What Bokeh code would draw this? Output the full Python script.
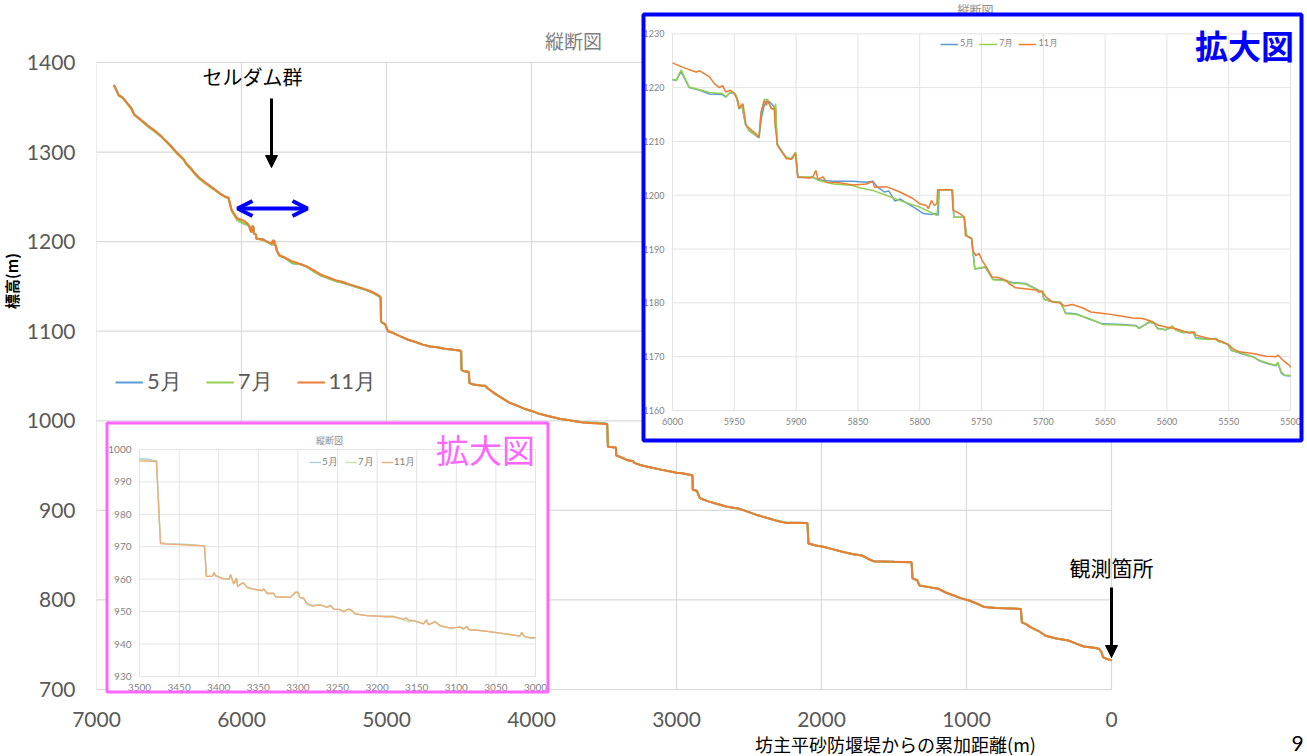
import math
from bokeh.plotting import figure
from bokeh.layouts import row, column
from bokeh.models import (Range1d, FixedTicker, Legend, LegendItem, Label, Arrow,
                          NormalHead, OpenHead)
from bokeh.core.properties import value
from bokeh.embed import file_html
from bokeh.resources import INLINE

# ---------------- data ----------------
series_labels = ["5月", "7月", "11月"]

main_x_ticks = [7000, 6000, 5000, 4000, 3000, 2000, 1000, 0]
main_y_ticks = [700, 800, 900, 1000, 1100, 1200, 1300, 1400]

main_dist = [
    6880, 6860, 6845, 6830, 6815, 6800, 6780, 6760, 6740, 6700,
    6650, 6600, 6550, 6500, 6450, 6400, 6380, 6350, 6320, 6290,
    6250, 6200, 6150, 6110, 6090, 6080, 6070, 6050, 6030, 6000,
    5980, 5960, 5945, 5940, 5930, 5925, 5918, 5915, 5900, 5898,
    5850, 5800, 5788, 5785, 5774, 5772, 5763, 5757, 5746, 5740,
    5700, 5650, 5600, 5550, 5500, 5450, 5400, 5350, 5300, 5250,
    5200, 5150, 5100, 5060, 5045, 5040, 5038, 5030, 5010, 4990,
    4960, 4900, 4850, 4800, 4750, 4700, 4650, 4600, 4550, 4500,
    4485, 4483, 4470, 4450, 4432, 4428, 4400, 4350, 4320, 4300,
    4250, 4200, 4150, 4100, 4050, 4000, 3950, 3900, 3850, 3800,
    3750, 3700, 3650, 3600, 3550, 3500, 3478, 3473, 3418, 3415,
    3400, 3380, 3350, 3330, 3300, 3290, 3250, 3200, 3150, 3100,
    3050, 3000, 2962, 2900, 2890, 2888, 2860, 2840, 2830, 2780,
    2724, 2650, 2565, 2500, 2450, 2355, 2300, 2248, 2150, 2097,
    2090, 2038, 1980, 1932, 1850, 1780, 1721, 1680, 1641, 1500,
    1379, 1372, 1340, 1324, 1250, 1193, 1140, 1088, 1040, 982,
    930, 876, 800, 700, 625, 618, 590, 559, 500, 455,
    380, 297, 240, 191, 120, 86, 70, 58, 30, 0]

main_elev_nov = [
    1375, 1368, 1363, 1362, 1360, 1357, 1353, 1349, 1342, 1337,
    1330, 1324, 1317, 1309, 1300, 1292, 1287, 1282, 1276, 1271,
    1266, 1260, 1254, 1250, 1249, 1243, 1236, 1231, 1226, 1224.5,
    1223, 1220.4, 1217, 1213, 1210.7, 1217.6, 1216, 1209.3, 1207.8, 1203.4,
    1202, 1198.4, 1198, 1201, 1201, 1196.5, 1196, 1190, 1187, 1185,
    1182, 1178, 1175.5, 1172.1, 1168, 1163, 1160, 1157, 1155, 1152,
    1149.5, 1147, 1144, 1140.5, 1139, 1137, 1111, 1109.5, 1108, 1100,
    1098.5, 1094, 1090.5, 1088, 1085, 1083, 1082, 1080.5, 1079.5, 1078.5,
    1078, 1057, 1055.5, 1055, 1054.5, 1042, 1040.5, 1039.5, 1039, 1036,
    1030, 1025, 1020, 1017, 1013.5, 1011, 1008, 1006, 1004, 1002,
    1001, 999.5, 998, 997.5, 997, 996.5, 996.3, 971, 970.3, 961,
    960.5, 959, 957, 955.6, 955, 953, 950.7, 948.7, 947, 945.2,
    943.6, 941.9, 941.5, 939.5, 939, 923, 922, 914, 913, 910,
    907.3, 904, 901.7, 898, 895, 890.6, 888, 886, 885.8, 885.6,
    863, 860.7, 859, 857, 853.5, 851, 849.6, 846, 843.3, 842.5,
    842, 824, 822, 816, 814, 812.4, 808, 805, 802, 799.4,
    796, 792, 791, 790.5, 790, 775, 773, 769.6, 765, 760,
    757, 754.7, 751, 748, 746.5, 745.5, 742, 736, 734, 732.5]

main_elev_jul = [
    1375, 1368, 1362.5, 1361.5, 1359.5, 1356.5, 1352.5, 1348, 1341.5, 1336,
    1329, 1323, 1316.5, 1308.5, 1299, 1291.5, 1286, 1281, 1275, 1270,
    1265, 1259, 1253.5, 1249.5, 1248.5, 1242, 1235, 1229.5, 1224, 1221.5,
    1220, 1219, 1217, 1213, 1210.7, 1217.8, 1216, 1209.6, 1208, 1203.4,
    1201.6, 1197.8, 1196.5, 1201, 1201, 1196, 1195.9, 1190, 1186.6, 1184.3,
    1182, 1176, 1175, 1172.4, 1166.5, 1162, 1159, 1156, 1154, 1151.5,
    1149, 1146.5, 1143.5, 1139.5, 1138, 1137, 1111, 1109.5, 1108, 1100,
    1098.5, 1094, 1090.5, 1088, 1085, 1083, 1082, 1080.5, 1079.5, 1078.5,
    1078, 1057, 1055.5, 1055, 1054.5, 1042, 1040.5, 1039.5, 1039, 1036,
    1030, 1025, 1020, 1017, 1013.5, 1011, 1008, 1006, 1004, 1002,
    1001, 999.5, 998.5, 998, 997.8, 997, 996.5, 971, 970.3, 961,
    960.5, 959, 957, 955.6, 955, 953, 950.7, 948.7, 946.8, 945.2,
    943.6, 941.9, 941.5, 939.5, 939, 923, 922, 914, 913, 910,
    907.3, 904, 901.7, 898, 895, 890.6, 888, 886.5, 886.3, 885.9,
    863, 860.7, 859, 857, 853.5, 851, 849.6, 846, 843, 842.3,
    842, 824, 822, 816, 814, 812.4, 808, 805, 802, 799.4,
    796, 792, 791.3, 790.8, 790, 775, 773, 769.6, 765, 760,
    757, 754.7, 751, 748, 746.5, 745.5, 742, 736, 734, 732.5]

main_elev_may = [
    1375, 1368, 1363, 1362, 1360, 1357, 1353, 1349, 1342, 1337,
    1330, 1324, 1317, 1309, 1300, 1292, 1287, 1282, 1276, 1271,
    1266, 1260, 1254, 1250, 1249, 1243, 1236, 1230, 1225, 1221.5,
    1220, 1218.8, 1216.8, 1213, 1210.7, 1216.5, 1216.5, 1209.4, 1207.9, 1203.3,
    1202.6, 1197.5, 1196.5, 1201, 1201, 1196, 1195.9, 1190, 1186.6, 1184.4,
    1182, 1176, 1175, 1172.3, 1166.4, 1162, 1159, 1156, 1154, 1151.5,
    1149, 1146.5, 1143.5, 1140, 1138.5, 1137, 1111, 1109.5, 1108, 1100,
    1098.5, 1094, 1090.5, 1088, 1085, 1083, 1082, 1080.5, 1079.5, 1078.5,
    1078, 1057, 1055.5, 1055, 1054.5, 1042, 1040.5, 1039.5, 1039, 1036,
    1030, 1025, 1020, 1017, 1013.5, 1011, 1008, 1006, 1004, 1002,
    1001, 999.5, 998.5, 998, 997.8, 997.2, 996.6, 971, 970.3, 961,
    960.5, 959, 957, 955.6, 955, 953, 950.7, 948.7, 947, 945.2,
    943.6, 941.9, 941.5, 939.5, 939, 923, 922, 914, 913, 910,
    907.3, 904, 901.7, 898, 895, 890.6, 888, 886.5, 886.3, 885.9,
    863, 860.7, 859, 857, 853.5, 851, 849.6, 846, 843.2, 842.7,
    842, 824, 822, 816, 814, 812.4, 808, 805, 802, 799.4,
    796, 792, 791, 790.5, 790, 775, 773, 769.6, 765, 760,
    757, 754.7, 751, 748, 746.5, 745.5, 742, 736, 734, 732.5]

# blue inset (拡大図 6000-5500)
blue_x_ticks = [6000, 5950, 5900, 5850, 5800, 5750, 5700, 5650, 5600, 5550, 5500]
blue_y_ticks = [1160, 1170, 1180, 1190, 1200, 1210, 1220, 1230]

blue_nov_d = [
    6000, 5992, 5981, 5978, 5970, 5966, 5962, 5959.5, 5957, 5953,
    5950, 5947, 5946, 5943, 5940.5, 5935.7, 5932.4, 5930, 5928.4, 5925.7,
    5924, 5923, 5920, 5917.6, 5917, 5915, 5912, 5908, 5903, 5900.5,
    5898.6, 5889, 5886.5, 5884, 5882.4, 5878, 5875.7, 5865, 5854, 5843,
    5838, 5836.5, 5827, 5816, 5805.4, 5800, 5794.6, 5793, 5790.5, 5788,
    5786, 5785.5, 5774, 5773, 5767.6, 5764, 5763, 5758, 5757, 5754.6,
    5752, 5749.5, 5745.4, 5741.4, 5736, 5730.5, 5727.8, 5722.4, 5706, 5703.5,
    5700.8, 5698, 5692.7, 5687, 5682.4, 5676.5, 5668.4, 5661.6, 5649.5, 5638.6,
    5627.8, 5619.7, 5611.6, 5607.6, 5600.8, 5592.7, 5581.9, 5577.8, 5576.5, 5565.7,
    5560, 5554.9, 5549.5, 5546.8, 5541.4, 5530.5, 5519.7, 5511.6, 5510, 5506,
    5500.8, 5500]
blue_nov_e = [
    1224.6, 1223.8, 1222.9, 1223.1, 1222, 1220.7, 1220, 1220.4, 1219.2, 1219.5,
    1218.9, 1217.6, 1216.1, 1217, 1213, 1212, 1211.4, 1210.7, 1215.2, 1217.6,
    1216.7, 1217.6, 1216.1, 1216.1, 1213, 1209.3, 1208.3, 1206.8, 1206.8, 1207.8,
    1203.4, 1203.2, 1203.4, 1204.6, 1203, 1203.4, 1202.4, 1202.3, 1201.9, 1202.1,
    1202.6, 1201.5, 1201.6, 1200.6, 1199.4, 1198.4, 1198.1, 1197.5, 1199, 1198.1,
    1198.5, 1201, 1201, 1197.2, 1196.6, 1196, 1192.5, 1192, 1189.7, 1188.8,
    1189.2, 1187.9, 1186.4, 1184.8, 1184.7, 1184.2, 1183.6, 1182.8, 1182.4, 1182,
    1182.2, 1181.1, 1180.2, 1180, 1179.4, 1179.7, 1179.1, 1178.3, 1178, 1177.6,
    1177.2, 1177.1, 1176.5, 1175.9, 1175.5, 1175.2, 1174.4, 1174.6, 1174, 1173.4,
    1173.2, 1172.8, 1172.1, 1171.5, 1170.9, 1170.6, 1170.1, 1170, 1170.3, 1169.3,
    1168.4, 1168]

blue_jul_d = [
    6000, 5997, 5993, 5986.5, 5978, 5970, 5959.5, 5957, 5954, 5951,
    5948.6, 5946, 5944, 5941, 5938, 5932, 5930, 5928.4, 5925.7, 5923,
    5920, 5917.6, 5916.5, 5915.4, 5912, 5908, 5904, 5900.5, 5898.6, 5886.5,
    5882.4, 5870, 5854, 5848.6, 5838, 5827, 5816, 5800, 5789, 5786,
    5784.3, 5773.5, 5772.4, 5764, 5762, 5758, 5755.4, 5746.8, 5740.8, 5733,
    5725, 5714.3, 5705, 5700.8, 5699.5, 5692.7, 5686, 5681.9, 5673.8, 5663,
    5652, 5636, 5625, 5622.4, 5614.3, 5610.3, 5607.6, 5601, 5595.4, 5592.7,
    5587.3, 5579, 5576.5, 5565.7, 5560, 5558.7, 5550.8, 5548, 5538.6, 5530.5,
    5525, 5517, 5511.6, 5510.3, 5507.6, 5504.9, 5500]
blue_jul_e = [
    1221.5, 1221.4, 1223.3, 1220.1, 1219.6, 1219.1, 1218.9, 1218.3, 1219, 1219.2,
    1218.6, 1216.1, 1217, 1213.3, 1212, 1211.1, 1210.7, 1215.5, 1217.8, 1217.8,
    1216.1, 1215.9, 1217, 1209.6, 1208.3, 1207.1, 1206.8, 1208, 1203.4, 1203.4,
    1202.8, 1202.1, 1201.8, 1201.4, 1200.9, 1200, 1199, 1197.8, 1196.6, 1196.2,
    1201, 1201, 1195.9, 1195.9, 1192.5, 1191.9, 1186.3, 1186.7, 1184.3, 1184.2,
    1183.7, 1183.5, 1182.4, 1182, 1180.6, 1180.2, 1180.1, 1178, 1177.9, 1177.1,
    1176, 1175.9, 1175.7, 1175.2, 1176.5, 1176.2, 1175.2, 1175, 1175.7, 1174.9,
    1174.5, 1174.6, 1173.4, 1173.2, 1173.4, 1172.8, 1172.4, 1171.2, 1170.6, 1170,
    1169.3, 1168.7, 1168.4, 1169, 1167.2, 1166.6, 1166.5]

blue_may_d = [
    6000, 5997, 5993, 5986.5, 5978, 5970, 5959.5, 5957, 5954, 5951,
    5948.6, 5946, 5944, 5941, 5938, 5932, 5930, 5928, 5926, 5924,
    5921, 5918, 5916.5, 5915.4, 5912, 5908, 5904, 5900.5, 5898.6, 5886.5,
    5882.4, 5870, 5854, 5843, 5838, 5834, 5828.6, 5825, 5820, 5816,
    5805, 5797, 5790.5, 5786.5, 5785, 5784.3, 5773.5, 5772.4, 5764, 5762,
    5758, 5755.4, 5746.8, 5740.8, 5733, 5725, 5714.3, 5705, 5700.8, 5699.5,
    5692.7, 5686, 5681.9, 5673.8, 5663, 5652, 5636, 5625, 5622.4, 5614.3,
    5610.3, 5607.6, 5601, 5595.4, 5592.7, 5587.3, 5579, 5576.5, 5565.7, 5560,
    5558.7, 5550.8, 5548, 5538.6, 5530.5, 5525, 5517, 5511.6, 5510.3, 5507.6,
    5504.9, 5500]
blue_may_e = [
    1221.5, 1221.3, 1223, 1220, 1219.5, 1218.8, 1218.7, 1218.2, 1218.9, 1219.1,
    1218.5, 1216, 1216.8, 1213.2, 1212, 1211, 1210.7, 1214.5, 1216.5, 1217.5,
    1217.3, 1216.5, 1216, 1209.4, 1208.2, 1207, 1206.7, 1207.9, 1203.3, 1203.3,
    1202.9, 1202.6, 1202.6, 1202.4, 1202.6, 1201.5, 1200.6, 1200.8, 1198.9, 1199.3,
    1197.8, 1196.6, 1196.4, 1196.6, 1196.3, 1201, 1201, 1195.9, 1195.9, 1192.5,
    1191.9, 1186.3, 1186.6, 1184.4, 1184.3, 1183.8, 1183.6, 1182.5, 1182, 1180.7,
    1180.2, 1180.1, 1178.1, 1178, 1177, 1176.1, 1176, 1175.8, 1175.3, 1176.4,
    1176.2, 1175.3, 1175, 1175.5, 1175, 1174.5, 1174.5, 1173.5, 1173.3, 1173.4,
    1172.9, 1172.3, 1171.2, 1170.5, 1170, 1169.2, 1168.6, 1168.3, 1168.9, 1167,
    1166.5, 1166.4]

# pink inset (拡大図 3500-3000)
pink_x_ticks = [3500, 3450, 3400, 3350, 3300, 3250, 3200, 3150, 3100, 3050, 3000]
pink_y_ticks = [930, 940, 950, 960, 970, 980, 990, 1000]

pink_d = [
    3500, 3490, 3478.6, 3473.5, 3465, 3440, 3418, 3415.5, 3408, 3406,
    3404, 3393.6, 3387, 3385, 3381, 3377.6, 3376, 3369.2, 3364, 3357.9,
    3345, 3343, 3339, 3330.5, 3328.4, 3309.5, 3303.2, 3300, 3297.7, 3292.7,
    3288.5, 3282, 3271.6, 3263, 3259, 3254.8, 3246.4, 3242.2, 3236, 3231.7,
    3227.5, 3212.8, 3191.8, 3179.1, 3166.5, 3164, 3160, 3153.9, 3141.3, 3138,
    3135, 3126.6, 3120.3, 3107.7, 3095, 3090.8, 3086.6, 3084.5, 3065.6, 3044.6,
    3023.6, 3020, 3017.2, 3014.3, 3006.7, 3000]
pink_nov = [
    996.5, 996.4, 996.3, 971.0, 970.8, 970.6, 970.3, 960.9, 960.9, 962.1,
    961.1, 960.1, 960.0, 961.4, 958.5, 960.3, 957.8, 959.0, 957.5, 957.0,
    956.5, 957.0, 955.6, 955.6, 954.6, 954.4, 956.0, 956.0, 954.4, 954.1,
    952.4, 951.8, 952.1, 951.3, 952.0, 950.8, 950.6, 950.0, 950.8, 950.3,
    949.3, 948.8, 948.5, 948.5, 947.7, 948.1, 947.4, 947.2, 946.2, 947.5,
    946.0, 946.9, 945.7, 944.9, 945.2, 944.7, 945.4, 944.5, 944.1, 943.4,
    942.6, 942.4, 943.6, 942.4, 941.9, 941.9]
pink_jul = [
    997.0, 996.6, 996.4, 971.2, 970.9, 970.6, 970.3, 960.9, 960.9, 962.0,
    961.1, 960.1, 960.0, 961.2, 958.6, 960.1, 957.8, 958.9, 957.5, 957.0,
    956.5, 956.9, 955.6, 955.6, 954.6, 954.4, 955.8, 955.9, 954.4, 954.1,
    952.4, 951.8, 952.1, 951.3, 951.9, 950.8, 950.6, 950.0, 950.7, 950.3,
    949.3, 948.8, 948.5, 948.3, 947.5, 947.2, 946.8, 947.2, 946.2, 947.3,
    946.0, 946.8, 945.5, 944.9, 945.2, 944.7, 945.3, 944.5, 944.1, 943.4,
    942.6, 942.4, 943.5, 942.4, 941.9, 941.9]
pink_may = [
    997.2, 997.0, 996.5, 971.3, 971.0, 970.7, 970.3, 960.9, 960.9, 962.0,
    961.0, 960.1, 960.0, 961.5, 958.5, 960.4, 957.8, 958.9, 957.5, 957.0,
    956.5, 956.9, 955.8, 955.7, 954.6, 954.4, 955.9, 956.0, 954.4, 954.1,
    952.3, 951.9, 952.1, 951.3, 952.0, 950.8, 950.6, 950.0, 950.8, 950.3,
    949.3, 948.8, 948.5, 948.5, 947.7, 948.0, 947.4, 947.2, 946.2, 947.4,
    946.0, 946.9, 945.7, 944.9, 945.2, 944.7, 945.4, 944.5, 944.1, 943.4,
    942.6, 942.4, 943.6, 942.4, 941.9, 941.9]

# ---------------- styles / layout ----------------
C_MAY, C_JUL, C_NOV = "#5B9BD5", "#92D050", "#ED7D31"
P_MAY, P_JUL, P_NOV = "#A9CBEB", "#C2E49E", "#F2AA74"
GRID = "#D9D9D9"
TICK = "#595959"
INSET_TICK = "#7F7F7F"
BLUE = "#0000FF"
PINK = "#FF66FF"
JP = "Noto Sans CJK JP"
NUM = "Lato"

PAGE_W, PAGE_H = 1307, 756
STRIP_W = 22        # left strip holding the y-axis title
MAIN_H = 730        # main figure height; footer below holds the x-axis title
FL, FR, FT, FB = 96, 1307, 0, 697          # plot frame, page pixels


def X(px):   # page pixel -> main distance
    return main_x_ticks[0] + (px - 96) * (main_x_ticks[-1] - main_x_ticks[0]) / (1111 - 96)


def Y(py):   # page pixel -> main elevation
    return main_y_ticks[0] + (py - 689) * (main_y_ticks[-1] - main_y_ticks[0]) / (62 - 689)


def plain_fig(w, h, xr, yr):
    f = figure(width=w, height=h, title=None, x_range=xr, y_range=yr,
               output_backend="svg", toolbar_location=None, tools="",
               x_axis_location=None, y_axis_location=None,
               min_border=0, min_border_left=0, min_border_right=0,
               min_border_top=0, min_border_bottom=0)
    f.outline_line_color = None
    f.xgrid.visible = False
    f.ygrid.visible = False
    f.background_fill_color = "white"
    f.border_fill_color = "white"
    return f


main_w = PAGE_W - STRIP_W
p = figure(width=main_w, height=MAIN_H, title=None,
           x_range=Range1d(X(FL), X(FR)), y_range=Range1d(Y(FB), Y(FT)),
           output_backend="svg", toolbar_location=None, tools="",
           min_border_left=FL - STRIP_W, min_border_right=PAGE_W - FR,
           min_border_top=FT, min_border_bottom=MAIN_H - FB)
p.outline_line_color = None
p.background_fill_color = "white"
p.border_fill_color = "white"
p.xgrid.visible = False
p.ygrid.visible = False

for ax, ticks in ((p.xaxis, main_x_ticks), (p.yaxis, main_y_ticks)):
    ax.ticker = FixedTicker(ticks=ticks)
    ax.axis_line_color = None
    ax.major_tick_line_color = None
    ax.minor_tick_line_color = None
    ax.major_tick_out = 0
    ax.major_tick_in = 0
    ax.major_label_text_font = NUM
    ax.major_label_text_font_size = "21px"
    ax.major_label_text_color = TICK
p.xaxis.major_label_standoff = 14
p.yaxis.major_label_standoff = 21

# main grid (bounded to the chart area)
ymin, ymax = min(main_y_ticks), max(main_y_ticks)
xmin, xmax = min(main_x_ticks), max(main_x_ticks)
p.segment(x0=main_x_ticks, y0=[ymin] * len(main_x_ticks), x1=main_x_ticks,
          y1=[ymax] * len(main_x_ticks), line_color=GRID, line_width=1.2)
p.segment(x0=[xmax] * len(main_y_ticks), y0=main_y_ticks, x1=[xmin] * len(main_y_ticks),
          y1=main_y_ticks, line_color=GRID, line_width=1.2)

r_may = p.line(main_dist, main_elev_may, line_color=C_MAY, line_width=2)
r_jul = p.line(main_dist, main_elev_jul, line_color=C_JUL, line_width=2)
r_nov = p.line(main_dist, main_elev_nov, line_color=C_NOV, line_width=2)

p.add_layout(Legend(
    items=[LegendItem(label=series_labels[0], renderers=[r_may]),
           LegendItem(label=series_labels[1], renderers=[r_jul]),
           LegendItem(label=series_labels[2], renderers=[r_nov])],
    orientation="horizontal", location=(19, 300), padding=0, margin=0,
    spacing=24, glyph_width=28, glyph_height=20, label_height=20, label_standoff=4,
    label_text_font=NUM, label_text_font_size="22px", label_text_color=TICK,
    background_fill_alpha=0, border_line_alpha=0))


def inset(x_ticks, y_ticks, box, frame, lines, colors, lw, fs, legend_pos,
          legend_kw, box_color, box_w, title_pos, title_fs):
    bl, br, bt, bb = box
    p.quad(left=X(bl), right=X(br), top=Y(bt), bottom=Y(bb), fill_color="white",
           line_color=None)
    fl, fr, ft, fb = frame
    sub = p.subplot(x_source=Range1d(x_ticks[0], x_ticks[-1]),
                    y_source=Range1d(y_ticks[0], y_ticks[-1]),
                    x_target=Range1d(X(fl), X(fr)), y_target=Range1d(Y(fb), Y(ft)))
    y0, y1 = y_ticks[0], y_ticks[-1]
    x0, x1 = x_ticks[0], x_ticks[-1]
    sub.segment(x0=x_ticks, y0=[y0] * len(x_ticks), x1=x_ticks, y1=[y1] * len(x_ticks),
                line_color="#E3E3E3", line_width=1)
    sub.segment(x0=[x0] * len(y_ticks), y0=y_ticks, x1=[x1] * len(y_ticks), y1=y_ticks,
                line_color="#E3E3E3", line_width=1)
    sub.text(x=x_ticks, y=[y0] * len(x_ticks), text=[str(t) for t in x_ticks],
             y_offset=11, text_align="center", text_baseline="middle",
             text_font=value(NUM), text_font_size=fs, text_color=INSET_TICK)
    sub.text(x=[x0] * len(y_ticks), y=y_ticks, text=[str(t) for t in y_ticks],
             x_offset=-8, text_align="right", text_baseline="middle",
             text_font=value(NUM), text_font_size=fs, text_color=INSET_TICK)
    p.text(x=[X(title_pos[0])], y=[Y(title_pos[1])], text=["縦断図"],
           text_align="center", text_baseline="middle", text_font=value(JP),
           text_font_size=title_fs, text_color="#8C8C8C")
    rends = []
    for (d, e), c in zip(lines, colors):
        rends.append(sub.line(d, e, line_color=c, line_width=lw))
    p.quad(left=X(bl), right=X(br), top=Y(bt), bottom=Y(bb), fill_color=None,
           line_color=box_color, line_width=box_w)
    p.add_layout(Legend(
        items=[LegendItem(label=lab, renderers=[r]) for lab, r in zip(series_labels, rends)],
        orientation="horizontal", location=legend_pos, padding=0, margin=0,
        label_text_font=NUM, label_text_color=INSET_TICK, label_width=0,
        background_fill_alpha=0, border_line_alpha=0, **legend_kw))


# pink inset
inset(pink_x_ticks, pink_y_ticks, (106.5, 547.5, 422.5, 691.5), (139, 535, 449, 676),
      [(pink_d, pink_may), (pink_d, pink_jul), (pink_d, pink_nov)],
      [P_MAY, P_JUL, P_NOV], 1.3, "10px", (213, 228),
      dict(spacing=7, glyph_width=12, glyph_height=10, label_height=10,
           label_standoff=1, label_text_font_size="10px"),
      PINK, 3, (329, 440), "9px")

# blue inset
inset(blue_x_ticks, blue_y_ticks, (643, 1301, 14, 440), (672, 1290, 33.3, 410),
      [(blue_may_d, blue_may_e), (blue_jul_d, blue_jul_e), (blue_nov_d, blue_nov_e)],
      [C_MAY, C_JUL, C_NOV], 1.5, "9px", (844, 647),
      dict(spacing=5, glyph_width=18, glyph_height=10, label_height=10,
           label_standoff=2, label_text_font_size="9px"),
      BLUE, 4, (975, 9), "12px")


# texts inside the main frame
def lab(px, py, text, size, color="black", style="normal", align="center"):
    p.add_layout(Label(x=X(px), y=Y(py), text=text, text_align=align,
                       text_baseline="middle", text_font=JP, text_font_size=size,
                       text_color=color, text_font_style=style))


lab(573, 40, "縦断図", "19px", "#7F7F7F")
lab(1244, 44, "拡大図", "33px", BLUE, "bold")
lab(485, 448, "拡大図", "33px", PINK)
lab(252, 76, "セルダム群", "20px")
lab(1111, 566, "観測箇所", "21px")

# arrows
p.add_layout(Arrow(end=NormalHead(size=12, fill_color="black", line_color="black"),
                   x_start=X(271), y_start=Y(98), x_end=X(271), y_end=Y(167),
                   line_color="black", line_width=3))
p.add_layout(Arrow(end=NormalHead(size=12, fill_color="black", line_color="black"),
                   x_start=X(1111), y_start=Y(587), x_end=X(1111), y_end=Y(657),
                   line_color="black", line_width=3))
p.add_layout(Arrow(start=OpenHead(size=15, line_color=BLUE, line_width=4),
                   end=OpenHead(size=15, line_color=BLUE, line_width=4),
                   x_start=X(237), y_start=Y(208), x_end=X(307), y_end=Y(208),
                   line_color=BLUE, line_width=4))

# left strip: y-axis title (page-pixel coordinates), written upward from its start
ys = plain_fig(STRIP_W, MAIN_H, Range1d(0, STRIP_W), Range1d(MAIN_H, 0))
ys.text(x=[11], y=[323], text=["標高(m)"], angle=math.pi / 2, text_align="left",
        text_baseline="middle", text_font=value(JP), text_font_size="15px",
        text_font_style="bold", text_color="black")

# footer: x-axis title and page number (page-pixel coordinates)
ft = plain_fig(PAGE_W, PAGE_H - MAIN_H, Range1d(0, PAGE_W), Range1d(PAGE_H, MAIN_H))
ft.text(x=[895], y=[743], text=["坊主平砂防堰堤からの累加距離(m)"], text_align="center",
        text_baseline="middle", text_font=value(JP), text_font_size="18px",
        text_color="black")
ft.text(x=[1297], y=[743], text=["9"], text_align="center", text_baseline="middle",
        text_font=value(NUM), text_font_size="21px", text_color="black")

layout = column(row(ys, p), ft)

with open("out.html", "w", encoding="utf-8") as f:
    f.write(file_html(layout, INLINE, title="縦断図"))
